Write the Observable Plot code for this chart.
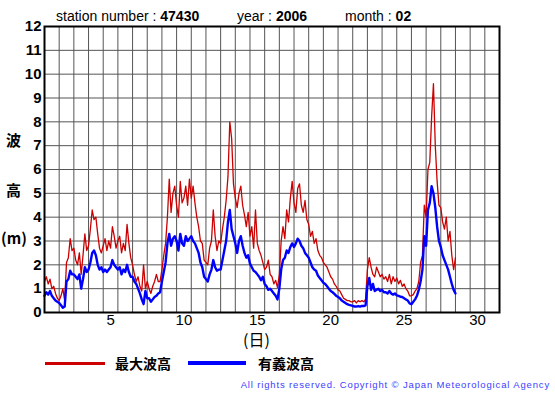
<!DOCTYPE html>
<html>
<head>
<meta charset="utf-8">
<script src="https://cdn.jsdelivr.net/npm/d3@7"></script>
<script src="https://cdn.jsdelivr.net/npm/@observablehq/plot@0.6"></script>
<style>
  html, body { margin: 0; padding: 0; background: #fff; }
  #wrap { position: relative; width: 555px; height: 395px; overflow: hidden; font-family: "Liberation Sans", Arial, "Noto Sans CJK JP", sans-serif; }
  #chart { position: absolute; left: 0; top: 0; }
  .abs { position: absolute; white-space: nowrap; }
  .title { font-size: 14px; color: #000; top: 8px; }
  .title b { font-weight: bold; }
  .ylab { font-family: "Noto Sans CJK JP", sans-serif; font-size: 15px; font-weight: bold; color: #000; }
  .xlab { font-family: "Noto Sans CJK JP", sans-serif; font-size: 16px; line-height: 16px; color: #000; }
  .leg { font-family: "Noto Sans CJK JP", sans-serif; font-size: 14px; line-height: 16px; font-weight: bold; color: #000; }
  .swatch { position: absolute; height: 3px; }
  .copy { font-size: 9.5px; line-height: 11px; letter-spacing: 0.85px; color: #3d3dff; }
</style>
</head>
<body>
<div id="wrap">
  <div id="chart"></div>
  <div class="abs title" style="left:56px;">station number : <b>47430</b></div>
  <div class="abs title" style="left:237px;">year : <b>2006</b></div>
  <div class="abs title" style="left:345px;">month : <b>02</b></div>
  <div class="abs ylab" style="left:6px; top:129px;">波</div>
  <div class="abs ylab" style="left:6px; top:179px;">高</div>
  <div class="abs ylab" style="left:1px; top:227px;">(m)</div>
  <div class="abs xlab" style="left:243px; top:331px;">(日)</div>
  <div class="swatch" style="left:45px; width:60px; top:362px; background:#cc0000;"></div>
  <div class="abs leg" style="left:115px; top:355px;">最大波高</div>
  <div class="swatch" style="left:188px; width:58px; top:361px; height:4px; background:#0000ff;"></div>
  <div class="abs leg" style="left:258px; top:355px;">有義波高</div>
  <div class="abs copy" style="right:5px; top:379px;">All rights reserved. Copyright © Japan Meteorological Agency</div>
</div>
<script>
// 3-hourly samples starting 1 Feb 00:00 (x in days since start of month)
const maxWave = [
  1.3, 1.5, 1.2, 1.4, 1.0, 1.1, 0.8, 0.6,
  0.5, 0.7, 1.0, 0.5, 2.1, 2.3, 3.1, 2.6,
  2.7, 2.2, 2.0, 2.5, 1.6, 2.4, 3.3, 2.6,
  2.8, 3.5, 4.3, 3.9, 4.0, 3.3, 2.7, 2.5,
  2.8, 3.1, 2.6, 3.0, 2.7, 3.6, 3.2, 2.7,
  3.0, 3.2, 2.5, 2.9, 2.6, 3.7, 2.9, 2.3,
  2.0, 1.6, 1.3, 1.5, 1.1, 0.9, 2.0, 1.0,
  1.3, 1.0, 0.8, 1.1, 1.3, 1.6, 1.3, 1.3,
  1.8, 2.4, 2.9, 4.0, 5.6, 4.2, 5.0, 5.3,
  4.5, 4.0, 5.5, 4.6, 4.8, 5.3, 4.5, 5.6,
  4.8, 5.3, 4.6, 4.0, 3.6, 3.0, 2.9, 2.2,
  2.1, 2.0, 2.7, 3.0, 4.3, 3.2, 2.6, 3.0,
  2.9, 3.5, 4.0, 4.7, 5.7, 8.0, 7.3, 5.4,
  4.8, 4.4, 5.0, 5.3, 4.5, 4.1, 3.6, 4.2,
  3.2, 3.6, 2.7, 4.3, 2.9, 2.6, 2.4, 2.1,
  1.8, 1.9, 2.2, 1.6, 1.5, 1.2, 1.35, 1.05,
  1.6, 3.0, 3.6, 3.1, 4.3, 3.8, 4.8, 5.5,
  4.6, 4.2, 5.2, 5.4, 4.5, 4.2, 4.7, 3.9,
  3.7, 3.2, 3.4, 2.9, 3.1, 2.6, 2.4, 2.3,
  2.1, 2.0, 1.9, 1.7, 1.5, 1.4, 1.2, 1.1,
  0.95, 0.9, 0.75, 0.6, 0.55, 0.5, 0.5, 0.45,
  0.45, 0.5, 0.4, 0.5, 0.45, 0.5, 0.45, 0.55,
  1.8, 2.3, 1.9, 1.6, 1.5, 1.9, 1.7, 1.5,
  1.6, 1.4, 1.5, 1.3, 1.6, 1.2, 1.5, 1.3,
  1.45, 1.2, 1.35, 1.1, 1.2, 1.0, 0.9, 0.7,
  0.7, 0.75, 0.9, 1.0, 1.3, 2.1, 2.4, 4.5,
  4.0, 6.0, 6.3, 8.2, 9.6, 7.0, 5.5, 4.5,
  4.4, 3.8, 3.5, 4.0, 3.0, 3.4, 2.4, 1.8,
  2.3
];
const sigWave = [
  0.7, 0.85, 0.75, 0.9, 0.7, 0.6, 0.5, 0.45,
  0.4, 0.3, 0.2, 0.25, 1.3, 1.4, 1.75, 1.6,
  1.6, 1.5, 1.4, 1.6, 1.0, 1.4, 1.9, 1.7,
  1.8, 2.1, 2.5, 2.6, 2.4, 2.0, 1.8, 1.9,
  1.7, 1.8, 1.7, 1.8, 1.9, 2.2, 2.0, 1.9,
  1.8, 1.9, 1.6, 1.8, 1.7, 2.0, 1.7, 1.5,
  1.5, 1.3, 1.2, 1.0, 0.8, 0.55, 0.35, 0.9,
  0.6, 0.6, 0.45, 0.55, 0.65, 0.7, 0.8, 0.85,
  1.3, 1.7, 2.1, 2.9, 3.3, 2.8, 3.1, 3.2,
  3.0, 2.6, 3.3, 2.9, 2.8, 3.2, 3.0, 3.1,
  3.2, 3.0, 2.9, 2.7, 2.5, 2.1, 1.9, 1.5,
  1.4, 1.3, 1.6, 1.8, 2.2, 1.9, 1.75, 1.8,
  1.8, 2.2, 2.6, 3.0, 3.8, 4.3, 3.5, 3.2,
  2.9, 2.5, 3.0, 3.2, 2.8, 2.5, 2.3, 2.4,
  2.05, 1.9, 1.75, 1.7, 1.6, 1.5, 1.35, 1.5,
  1.2, 1.1, 0.95, 1.0, 0.9, 0.8, 0.7, 0.55,
  1.0, 1.8, 2.2, 2.3, 2.6, 2.5, 2.75, 2.9,
  2.75, 2.9, 3.1, 3.0, 2.8, 2.7, 2.5, 2.4,
  2.3, 2.1, 1.9, 1.8, 1.75, 1.55, 1.45, 1.35,
  1.25, 1.2, 1.1, 1.0, 0.9, 0.85, 0.78, 0.7,
  0.65, 0.6, 0.5, 0.45, 0.4, 0.35, 0.32, 0.3,
  0.28, 0.25, 0.25, 0.27, 0.25, 0.28, 0.27, 0.3,
  1.1, 1.45, 0.95, 1.2, 0.9, 0.95, 1.0, 0.9,
  0.95, 0.85, 0.85, 0.8, 0.9, 0.8, 0.75, 0.8,
  0.72, 0.7, 0.66, 0.65, 0.6, 0.55, 0.5, 0.38,
  0.35, 0.45, 0.55, 0.7, 0.95, 1.3, 1.8, 3.2,
  2.8, 4.3, 4.6, 5.3, 5.0, 4.4, 3.6, 3.0,
  2.75, 2.4, 2.2, 2.0, 1.8, 1.5, 1.2, 0.95,
  0.8
];
const stepHours = 3;
const dayTickLabels = ["5", "10", "15", "20", "25", "30"];
const heightTicks = [0,1,2,3,4,5,6,7,8,9,10,11,12];
const gridDays = d3.range(1, 31);
const gridHeights = d3.range(1, 12);

const rows = maxWave.map((v, i) => ({t: i * stepHours / 24, max: v, sig: sigWave[i]}));
// each day's label sits in the middle of that day's column
const dayTickPos = dayTickLabels.map(s => +s - 0.5);

const chart = Plot.plot({
  width: 555,
  height: 350,
  marginTop: 26,
  marginLeft: 44,
  marginRight: 56,
  marginBottom: 38,
  x: {domain: [0, 31]},
  y: {domain: [0, 12]},
  style: {fontFamily: "'Liberation Sans', Arial, sans-serif", background: "transparent", overflow: "visible"},
  marks: [
    Plot.ruleX(gridDays, {stroke: "#555", strokeWidth: 1}),
    Plot.ruleY(gridHeights, {stroke: "#555", strokeWidth: 1}),
    Plot.lineY(rows, {x: "t", y: "max", stroke: "#cc0000", strokeWidth: 1.3, strokeLinejoin: "round"}),
    Plot.lineY(rows, {x: "t", y: "sig", stroke: "#0000ff", strokeWidth: 2.4, strokeLinejoin: "round"}),
    Plot.frame({stroke: "#000", strokeWidth: 2}),
    Plot.axisX(dayTickPos, {tickSize: 0, tickPadding: 2, fontSize: 15, tickFormat: (d) => String(d + 0.5), label: null, fill: "#000"}),
    Plot.axisY(heightTicks, {tickSize: 0, tickPadding: 3, fontSize: 15, fontWeight: "bold", label: null, fill: "#000"})
  ]
});
document.getElementById("chart").appendChild(chart);
</script>
</body>
</html>
